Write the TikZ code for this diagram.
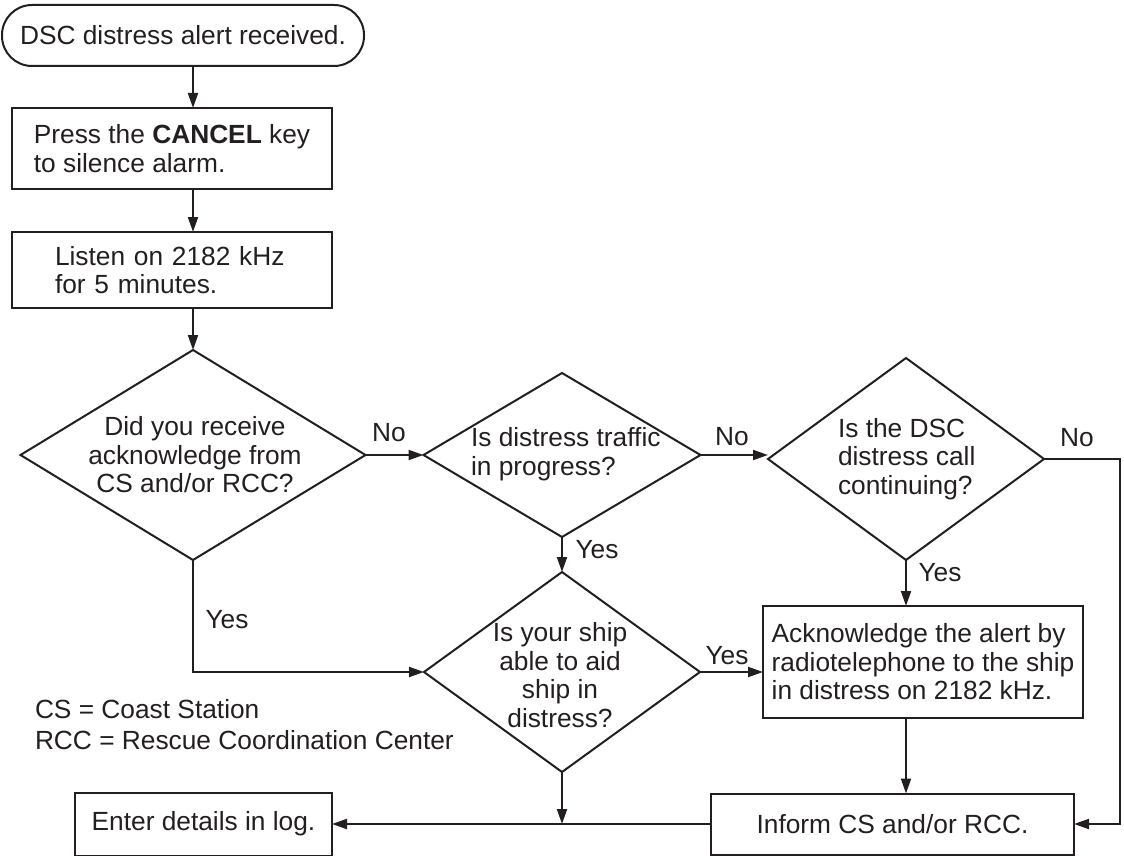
\documentclass[tikz,border=0pt]{standalone}
\usepackage{fontspec}
\setmainfont{Liberation Sans}
\usetikzlibrary{shapes.geometric,arrows.meta}
\definecolor{ink}{RGB}{35,31,32}
\begin{document}
\begin{tikzpicture}[x=1pt,y=-1pt,
  every node/.style={font=\fontsize{26.3pt}{28.5pt}\selectfont, text=ink},
  box/.style={draw=ink, line width=2pt, inner sep=0pt, outer sep=0pt, align=left},
  dia/.style={draw=ink, line width=2pt, shape=diamond, inner sep=0pt, outer sep=0pt},
  arr/.style={draw=ink, line width=2pt, -{Triangle[length=15pt,width=10pt]}},
  lbl/.style={inner sep=0pt, outer sep=0pt}]
\useasboundingbox (0,0) rectangle (1124,856);

% process boxes
\node[box, rounded corners=30pt, minimum width=362pt, minimum height=61pt, align=center] (start) at (183,35.5) {DSC distress alert received.};
\node[box, minimum width=320pt, minimum height=81pt] (press) at (172,148.5) {Press the \textbf{CANCEL} key\\to silence alarm.};
\node[box, minimum width=320pt, minimum height=76pt, inner xsep=43pt, text width=234pt] (listen) at (172,270) {Listen on 2182 kHz\\for 5 minutes.};
\node[box, minimum width=320pt, minimum height=112pt] (ack) at (923,662) {Acknowledge the alert by\\radiotelephone to the ship\\in distress on 2182 kHz.};
\node[box, minimum width=363pt, minimum height=61pt, align=center] (inform) at (892.5,824) {Inform CS and/or RCC.};
\node[box, minimum width=257pt, minimum height=63pt, align=center] (enter) at (203.5,824) {Enter details in log.};

% decisions
\node[dia, minimum width=345pt, minimum height=210pt] (d1) at (193,455) {};
\node[lbl, align=center] (t1) at (195,455) {Did you receive\\acknowledge from\\CS and/or RCC?};
\node[dia, minimum width=277pt, minimum height=164pt] (d2) at (562,455) {};
\node[lbl, align=left, anchor=west] (t2) at (471,454) {Is distress traffic\\in progress?};
\node[dia, minimum width=276pt, minimum height=202pt] (d3) at (906,459) {};
\node[lbl, align=left, anchor=west] (t3) at (838,459) {Is the DSC\\distress call\\continuing?};
\node[dia, minimum width=276pt, minimum height=200pt] (d4) at (562,672) {};
\node[lbl, align=center] (t4) at (560,675) {Is your ship\\able to aid\\ship in\\distress?};

% legend
\node[lbl, align=left, anchor=west, font=\fontsize{26.3pt}{30.5pt}\selectfont] (legend) at (35,724.5) {CS = Coast Station\\RCC = Rescue Coordination Center};

% branch labels
\node[lbl] (no1) at (389,433) {No};
\node[lbl] (no2) at (732,437) {No};
\node[lbl] (no3) at (1077,438) {No};
\node[lbl] (yes1) at (597,550) {Yes};
\node[lbl] (yes2) at (227,620) {Yes};
\node[lbl] (yes3) at (940,573) {Yes};
\node[lbl] (yes4) at (727,656) {Yes};

\coordinate (xr) at (1120,0);

% connectors
\draw[arr] (start.south -| d1.north) -- (press.north -| d1.north);
\draw[arr] (press.south -| d1.north) -- (listen.north -| d1.north);
\draw[arr] (listen.south -| d1.north) -- (d1.north);
\draw[arr] (d1.east) -- (d2.west);
\draw[arr] (d2.east) -- (d2.east -| d3.west);
\draw[arr] (d3.east) -- (d3.east -| xr) |- (inform.east);
\draw[arr] (d2.south) -- (d4.north);
\draw[arr] (d1.south) |- (d4.west);
\draw[arr] (d3.south) -- (d3.south |- ack.north);
\draw[arr] (d4.east) -- (d4.east -| ack.west);
\draw[arr] (d3.south |- ack.south) -- (d3.south |- inform.north);
\draw[arr] (inform.west) -- (enter.east);
\draw[arr] (d4.south) -- (d4.south |- inform.west);
\end{tikzpicture}
\end{document}
